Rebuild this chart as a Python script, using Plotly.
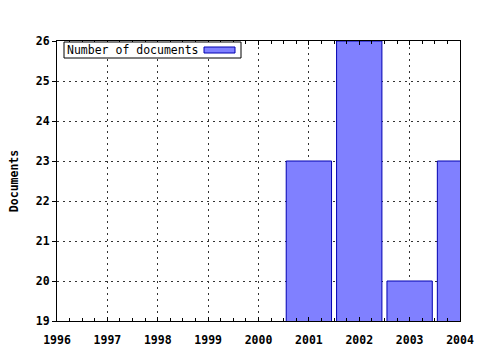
import plotly.graph_objects as go

years = [2001, 2002, 2003, 2004]
documents = [23, 26, 20, 23]
series_name = "Number of documents"
y_title = "Documents"

W, H = 480, 350
L, R, T, B = 57, 460, 41, 321

def px(x):
    return (x - L) / (R - L)

def py(y):
    return (B - y) / (B - T)

fig = go.Figure()
fig.add_trace(go.Bar(
    x=years, y=documents, name=series_name, width=0.9,
    marker=dict(color="#8080ff", line=dict(color="#0000b0", width=1)),
    showlegend=False,
))

mono = "DejaVu Sans Mono"
fig.update_layout(
    width=W, height=H,
    margin=dict(l=L, r=W - R, t=T, b=H - B, pad=0, autoexpand=False),
    paper_bgcolor="white", plot_bgcolor="white",
    font=dict(family=mono, size=11, color="black"),
    xaxis=dict(
        range=[1996, 2004], tick0=1996, dtick=1, automargin=False,
        showgrid=True, gridcolor="#333333", griddash="2px,4px", gridwidth=1,
        showline=True, linecolor="black", linewidth=1, mirror="allticks",
        ticks="inside", ticklen=4, tickcolor="black",
        minor=dict(dtick=0.25, ticks="inside", ticklen=3, tickcolor="black", showgrid=False),
        tickfont=dict(family=mono, size=11.5, weight="bold"),
        ticklabelstandoff=8,
        zeroline=False,
    ),
    yaxis=dict(
        range=[19, 26], dtick=1, automargin=False,
        showgrid=True, gridcolor="#333333", griddash="2px,4px", gridwidth=1,
        showline=True, linecolor="black", linewidth=1, mirror=True,
        ticks="outside", ticklen=4, tickcolor="black",
        tickfont=dict(family=mono, size=11.5, weight="bold"),
        title=dict(text=y_title, font=dict(family=mono, size=11.5, weight="bold"), standoff=14),
        zeroline=False,
    ),
    shapes=[
        dict(type="rect", xref="paper", yref="paper",
             x0=px(64), x1=px(241), y0=py(58), y1=py(42),
             line=dict(color="black", width=1), fillcolor="white", layer="above"),
        dict(type="rect", xref="paper", yref="paper",
             x0=px(204), x1=px(235), y0=py(53), y1=py(47),
             line=dict(color="#0000b0", width=1), fillcolor="#8080ff", layer="above"),
    ],
    annotations=[
        dict(text=series_name, xref="paper", yref="paper",
             x=px(65), y=py(50), xanchor="left", yanchor="middle",
             showarrow=False, font=dict(family=mono, size=11.5, color="black")),
    ],
)

fig.write_html("out.html")
